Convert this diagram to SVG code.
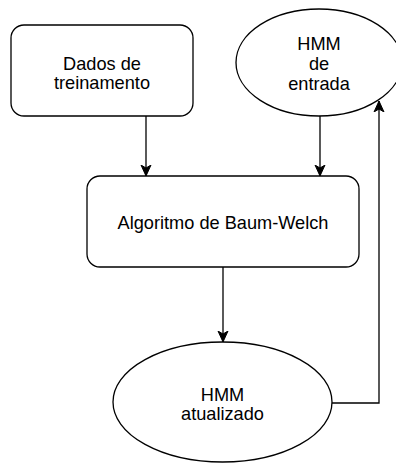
<svg xmlns="http://www.w3.org/2000/svg" width="396" height="463" viewBox="0 0 396 463">
  <style>
    .shape { fill: #ffffff; stroke: #000000; stroke-width: 1.3; }
    .edge { fill: none; stroke: #000000; stroke-width: 1.3; }
    .label { font-family: "Liberation Sans", Arial, Helvetica, sans-serif; font-size: 18.2px; fill: #000000; text-anchor: middle; }
  </style>
  <defs>
    <marker id="arrow" viewBox="0 0 12 12" refX="11" refY="6" markerWidth="12" markerHeight="12" markerUnits="userSpaceOnUse" orient="auto">
      <path d="M0,1 L11,6 L0,11 L3,6 Z" fill="#000000" stroke="#000000" stroke-width="1"/>
    </marker>
  </defs>

  <g id="edges">
    <path class="edge" d="M146,116 L146,176" marker-end="url(#arrow)"/>
    <path class="edge" d="M320,116 L320,176" marker-end="url(#arrow)"/>
    <path class="edge" d="M223,267 L223,342" marker-end="url(#arrow)"/>
    <path class="edge" d="M332,403 L379,403 L379,101" marker-end="url(#arrow)"/>
  </g>

  <g id="dados-treinamento">
    <rect class="shape" x="11" y="25" width="182" height="91" rx="13" ry="13"/>
    <text class="label" x="102" y="69.5">Dados de</text>
    <text class="label" x="102" y="89">treinamento</text>
  </g>

  <g id="hmm-entrada">
    <ellipse class="shape" cx="319" cy="62.5" rx="83" ry="53.5"/>
    <text class="label" x="319" y="50">HMM</text>
    <text class="label" x="319" y="70">de</text>
    <text class="label" x="319" y="90">entrada</text>
  </g>

  <g id="baum-welch">
    <rect class="shape" x="87" y="176" width="272" height="91" rx="13" ry="13"/>
    <text class="label" x="223" y="229">Algoritmo de Baum-Welch</text>
  </g>

  <g id="hmm-atualizado">
    <ellipse class="shape" cx="222.5" cy="402" rx="109.5" ry="60"/>
    <text class="label" x="222.5" y="400.5">HMM</text>
    <text class="label" x="222.5" y="420">atualizado</text>
  </g>
</svg>
